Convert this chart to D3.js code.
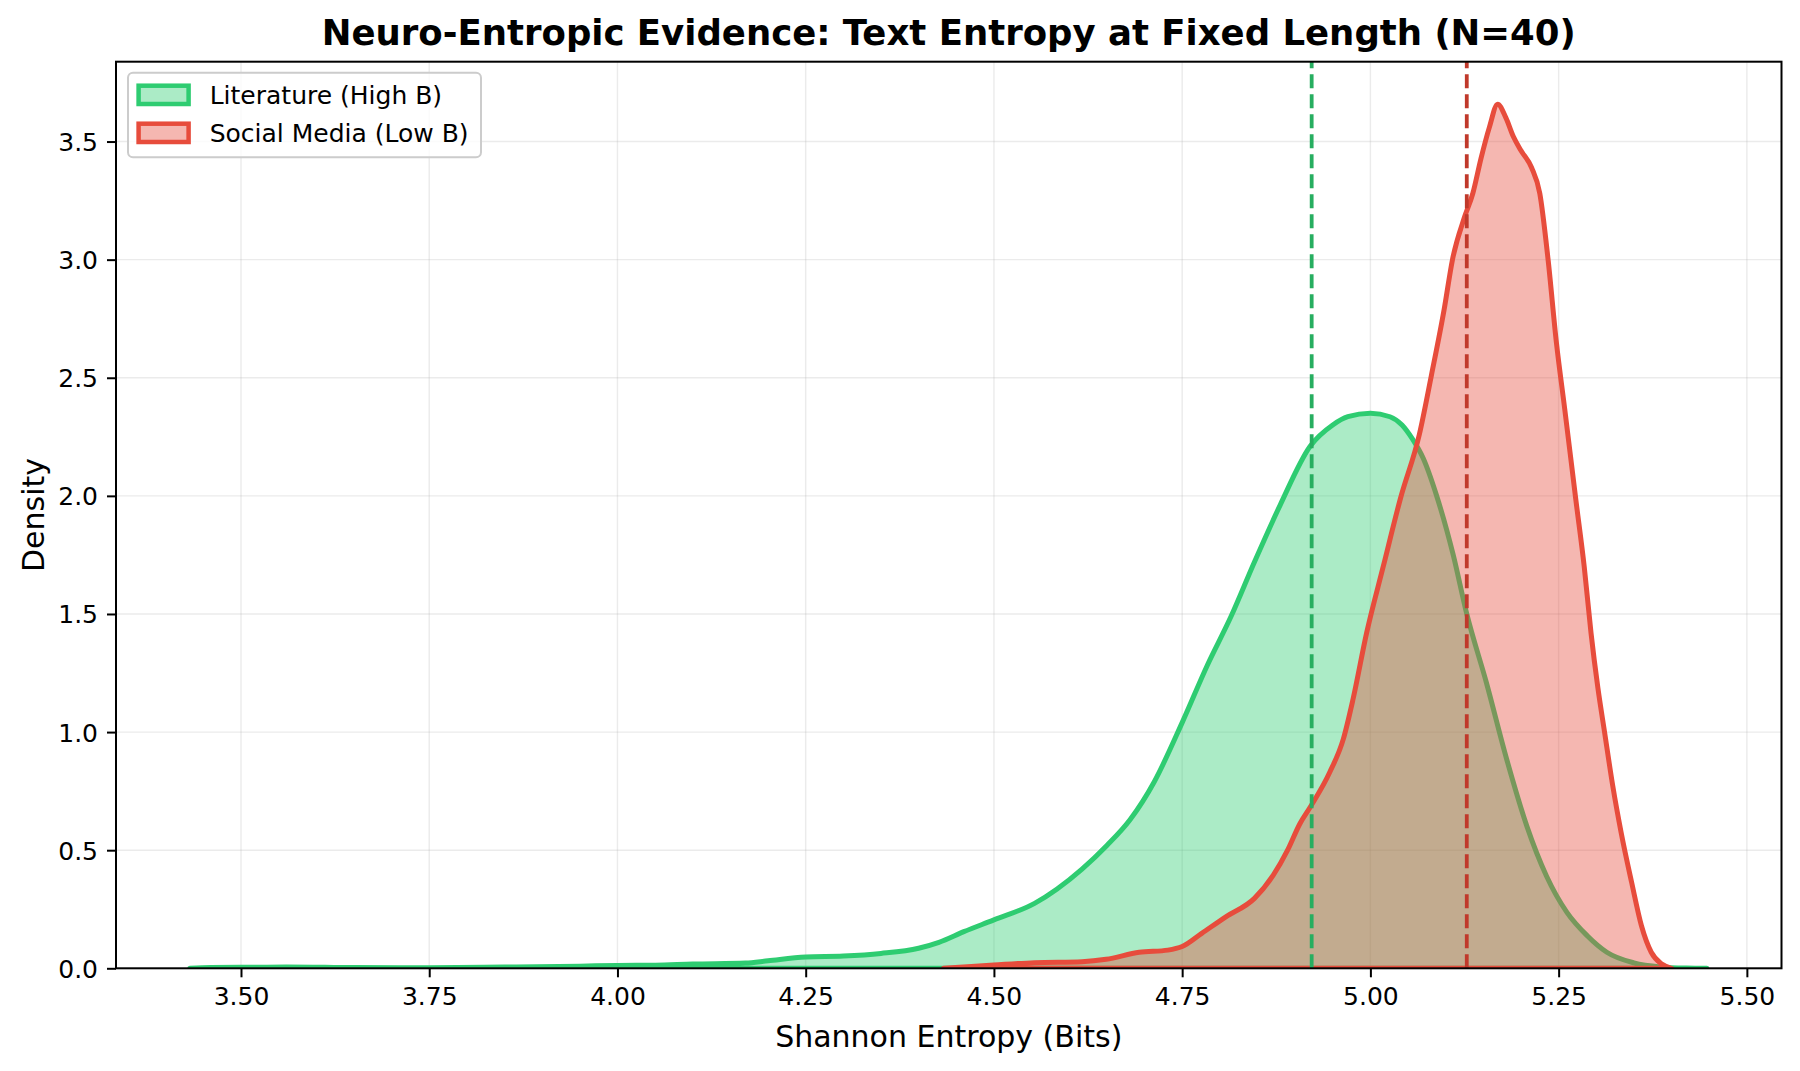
<!DOCTYPE html>
<html>
<head>
<meta charset="utf-8">
<script src="https://cdn.jsdelivr.net/npm/d3@7"></script>
<style>
  html, body { margin: 0; padding: 0; background: #fff; }
  svg { display: block; font-family: "DejaVu Sans", sans-serif; }
</style>
</head>
<body>
<svg id="chart" width="1800" height="1071"></svg>
<script>
// ---------------- data ----------------
const titleText = "Neuro-Entropic Evidence: Text Entropy at Fixed Length (N=40)";
const xLabelText = "Shannon Entropy (Bits)";
const yLabelText = "Density";
const seriesNames = ["Literature (High B)", "Social Media (Low B)"];

const xTicks = [3.50, 3.75, 4.00, 4.25, 4.50, 4.75, 5.00, 5.25, 5.50];
const yTicks = [0.0, 0.5, 1.0, 1.5, 2.0, 2.5, 3.0, 3.5];

// Literature (High B) KDE
const litX = [3.432, 3.46, 3.50, 3.56, 3.65, 3.75, 3.85, 3.95, 4.00, 4.05, 4.10, 4.17, 4.20, 4.25, 4.30, 4.35, 4.40, 4.427, 4.46, 4.50, 4.554, 4.617, 4.65, 4.681, 4.713, 4.75, 4.783, 4.815, 4.846, 4.88, 4.92, 4.95, 4.97, 5.00, 5.026, 5.042, 5.056, 5.07, 5.088, 5.11, 5.128, 5.154, 5.181, 5.208, 5.234, 5.261, 5.288, 5.314, 5.35, 5.385, 5.42, 5.447];
const litY = [0.0, 0.003, 0.004, 0.006, 0.003, 0.002, 0.005, 0.009, 0.012, 0.013, 0.018, 0.022, 0.032, 0.048, 0.052, 0.063, 0.085, 0.11, 0.155, 0.205, 0.275, 0.42, 0.52, 0.63, 0.79, 1.04, 1.28, 1.49, 1.72, 1.96, 2.21, 2.30, 2.335, 2.35, 2.335, 2.30, 2.24, 2.16, 2.0, 1.75, 1.50, 1.21, 0.885, 0.60, 0.39, 0.237, 0.138, 0.068, 0.023, 0.006, 0.001, 0.0];

// Social Media (Low B) KDE
const socX = [4.433, 4.47, 4.50, 4.554, 4.617, 4.649, 4.693, 4.731, 4.75, 4.776, 4.808, 4.846, 4.871, 4.89, 4.906, 4.921, 4.946, 4.964, 4.977, 4.995, 5.017, 5.04, 5.065, 5.081, 5.098, 5.109, 5.125, 5.136, 5.147, 5.158, 5.169, 5.18, 5.19, 5.20, 5.214, 5.225, 5.236, 5.247, 5.258, 5.273, 5.284, 5.293, 5.302, 5.311, 5.322, 5.333, 5.347, 5.36, 5.373, 5.387, 5.40];
const socY = [0.0, 0.008, 0.014, 0.024, 0.028, 0.038, 0.068, 0.077, 0.092, 0.148, 0.218, 0.296, 0.394, 0.50, 0.61, 0.687, 0.83, 0.97, 1.14, 1.42, 1.70, 1.99, 2.26, 2.51, 2.79, 3.0, 3.18, 3.28, 3.43, 3.56, 3.658, 3.60, 3.52, 3.462, 3.39, 3.28, 3.0, 2.65, 2.37, 1.98, 1.70, 1.42, 1.19, 1.0, 0.77, 0.575, 0.363, 0.18, 0.068, 0.018, 0.0];

// mean entropy lines
const meanValues = [4.922, 5.128];

// ---------------- styles ----------------
const lineColors = ["#2ecc71", "#e74c3c"];
const meanColors = ["#27ae60", "#c0392b"];

// ---------------- layout ----------------
const plot = { left: 116, right: 1781.5, top: 61.7, bottom: 968.3 };
const svg = d3.select("#chart");

const x = d3.scaleLinear().domain([3.334, 5.546]).range([plot.left, plot.right]);
const y = d3.scaleLinear().domain([0, 3.838]).range([plot.bottom, plot.top]);

// grid
const grid = svg.append("g").attr("class", "grid");
grid.selectAll("line.vx").data(xTicks).enter().append("line")
  .attr("x1", d => x(d)).attr("x2", d => x(d))
  .attr("y1", plot.top).attr("y2", plot.bottom)
  .attr("stroke", "#b0b0b0").attr("stroke-opacity", 0.25).attr("stroke-width", 1.4);
grid.selectAll("line.hy").data(yTicks).enter().append("line")
  .attr("x1", plot.left).attr("x2", plot.right)
  .attr("y1", d => y(d)).attr("y2", d => y(d))
  .attr("stroke", "#b0b0b0").attr("stroke-opacity", 0.25).attr("stroke-width", 1.4);

// clip
svg.append("clipPath").attr("id", "clip").append("rect")
  .attr("x", plot.left).attr("y", plot.top)
  .attr("width", plot.right - plot.left).attr("height", plot.bottom - plot.top);

const area = d3.area()
  .x(d => x(d[0]))
  .y0(y(0))
  .y1(d => y(d[1]))
  .curve(d3.curveMonotoneX);

const series = [
  d3.zip(litX, litY),
  d3.zip(socX, socY)
];

const plotG = svg.append("g").attr("clip-path", "url(#clip)");
series.forEach((s, i) => {
  plotG.append("path")
    .datum(s)
    .attr("d", area)
    .attr("fill", lineColors[i])
    .attr("fill-opacity", 0.4)
    .attr("stroke", lineColors[i])
    .attr("stroke-width", 5)
    .attr("stroke-linejoin", "round");
});

// mean lines
plotG.selectAll("line.mean").data(meanValues).enter().append("line")
  .attr("x1", d => x(d)).attr("x2", d => x(d))
  .attr("y1", plot.bottom).attr("y2", plot.top)
  .attr("stroke", (d, i) => meanColors[i])
  .attr("stroke-width", 3.8)
  .attr("stroke-dasharray", "14,6");

// spines
svg.append("rect")
  .attr("x", plot.left).attr("y", plot.top)
  .attr("width", plot.right - plot.left).attr("height", plot.bottom - plot.top)
  .attr("fill", "none").attr("stroke", "#000").attr("stroke-width", 2);

// axes
const xAxis = svg.append("g")
  .attr("transform", `translate(0,${plot.bottom})`)
  .call(d3.axisBottom(x).tickValues(xTicks).tickFormat(d3.format(".2f")).tickSize(9).tickPadding(9));
const yAxis = svg.append("g")
  .attr("transform", `translate(${plot.left},0)`)
  .call(d3.axisLeft(y).tickValues(yTicks).tickFormat(d3.format(".1f")).tickSize(9).tickPadding(9));

[xAxis, yAxis].forEach(a => {
  a.select(".domain").remove();
  a.selectAll(".tick line").attr("stroke", "#000").attr("stroke-width", 2);
  a.selectAll(".tick text")
    .attr("fill", "#000")
    .style("font-family", "'DejaVu Sans', sans-serif")
    .style("font-size", "25px");
});
xAxis.selectAll(".tick text").attr("dy", "0.74em");
yAxis.selectAll(".tick text").attr("dy", "0.36em");

// title & labels
svg.append("text")
  .attr("x", (plot.left + plot.right) / 2).attr("y", 45)
  .attr("text-anchor", "middle")
  .style("font-size", "35.5px").style("font-weight", "bold")
  .text(titleText);

svg.append("text")
  .attr("x", (plot.left + plot.right) / 2).attr("y", 1046.5)
  .attr("text-anchor", "middle")
  .style("font-size", "30px")
  .text(xLabelText);

svg.append("text")
  .attr("transform", `translate(44.3,${(plot.top + plot.bottom) / 2}) rotate(-90)`)
  .attr("text-anchor", "middle")
  .style("font-size", "30px")
  .text(yLabelText);

// legend
const legend = svg.append("g");
legend.append("rect")
  .attr("x", 128).attr("y", 72.7).attr("width", 353).attr("height", 84.6)
  .attr("rx", 5).attr("ry", 5)
  .attr("fill", "#fff").attr("fill-opacity", 0.8)
  .attr("stroke", "#cccccc").attr("stroke-width", 2);
seriesNames.forEach((name, i) => {
  const yy = 85.7 + i * 38;
  legend.append("rect")
    .attr("x", 138.6).attr("y", yy).attr("width", 50).attr("height", 18.3)
    .attr("fill", lineColors[i]).attr("fill-opacity", 0.4)
    .attr("stroke", lineColors[i]).attr("stroke-width", 4.5);
  legend.append("text")
    .attr("x", 209.7).attr("y", 104.3 + i * 37.4)
    .style("font-size", "25px")
    .text(name);
});
</script>
</body>
</html>
